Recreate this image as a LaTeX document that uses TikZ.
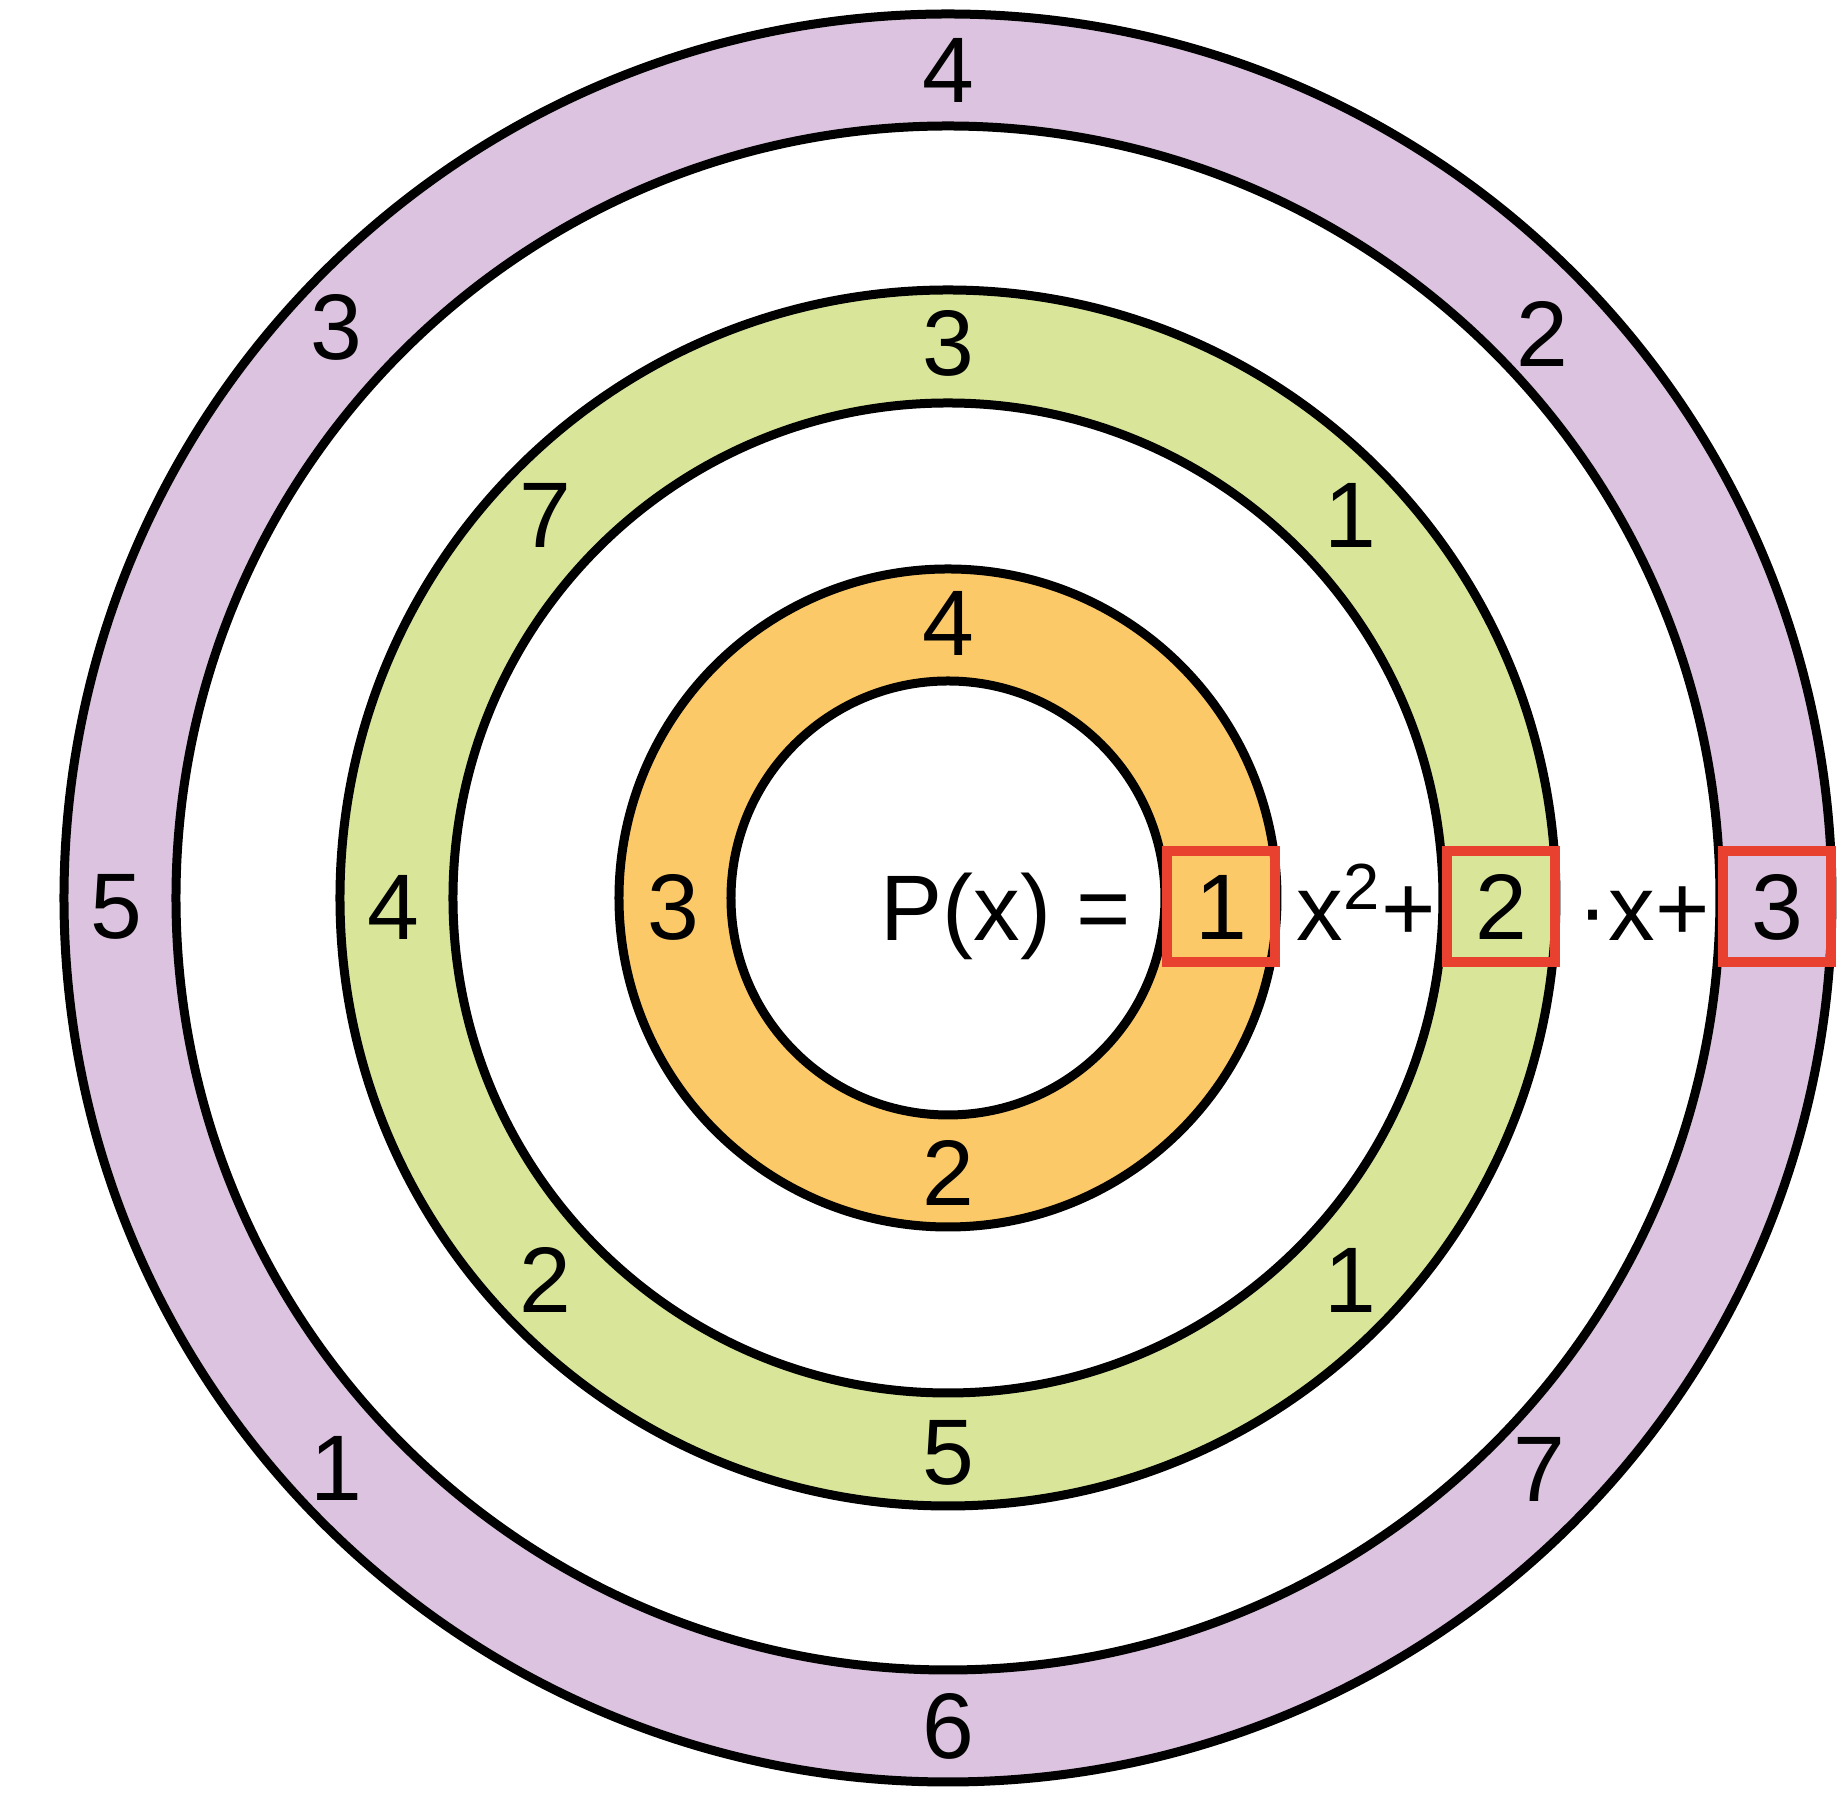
\documentclass[tikz,border=0pt]{standalone}
\usepackage{fontspec}
\setmainfont{Liberation Sans}
\usetikzlibrary{positioning}
\definecolor{cOuter}{HTML}{DCC3DF}
\definecolor{cMid}  {HTML}{D9E69A}
\definecolor{cInner}{HTML}{FCC968}
\definecolor{cMark} {HTML}{E8412F}
\tikzset{
  ring/.style ={draw=black,line width=0.9mm},
  num/.style  ={font=\fontsize{26.5pt}{30pt}\selectfont,inner sep=0pt},
  coef/.style ={num,draw=cMark,line width=1mm,minimum width=10.8mm,minimum height=11.1mm},
  term/.style ={num,anchor=base west},
}

\begin{document}
\begin{tikzpicture}[x=0.1mm,y=0.1mm]
\useasboundingbox (-948,-897) rectangle (891,898);

% discs, outside in
\foreach \r/\c in {884/cOuter,772/white,608/cMid,495/white,329/cInner,217/white}{
  \draw[ring,fill=\c] (0,0) circle (\r);
}

% outer ring
\foreach \a/\r/\t in {43.5/820/2,90/828/4,137/836/3,223/836/1,270/828/6,316/822/7}{
  \node[num] (o\a) at (\a:\r) {\t};
}
% middle ring
\foreach \a/\t in {43.5/1,90/3,136.5/7,223.5/2,270/5,316.5/1}{
  \node[num] (m\a) at (\a:555) {\t};
}
% inner ring
\foreach \a/\t in {90/4,270/2}{
  \node[num] (i\a) at (\a:275) {\t};
}
% left-hand column, level with the boxes
\node[num] (o180) at (-832,-9) {5};
\node[num] (m180) at (-555,-9) {4};
\node[num] (i180) at (-275,-9) {3};

% the polynomial
\node[coef] (ca) at (273,-9) {1};
\node[coef] (cb) at (553,-9) {2};
\node[coef] (cc) at (829,-9) {3};
\node[num,anchor=base east] (px) at (184,-43) {P(x) =};
\node[term] (sq) at (348,-43) {x\textsuperscript{2}+};
\node[term] (lin) at (629,-43) {·x+};
\end{tikzpicture}
\end{document}
